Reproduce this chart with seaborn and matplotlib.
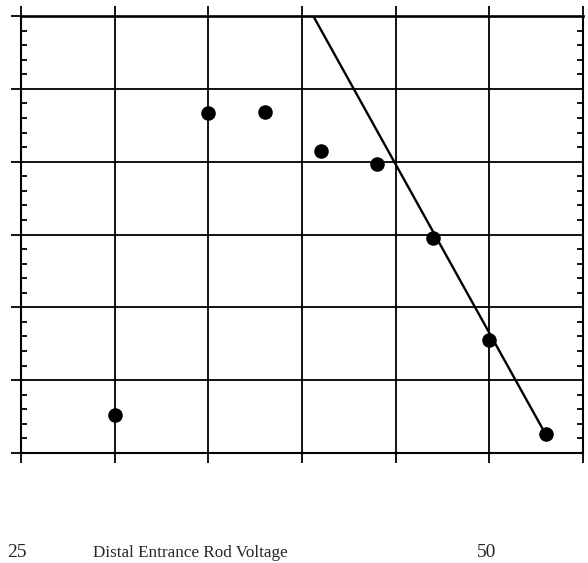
import matplotlib
matplotlib.use("Agg")
import matplotlib.pyplot as plt
import seaborn as sns
import pandas as pd
from matplotlib.ticker import MultipleLocator, NullFormatter

# Measured points
voltage = [30, 35, 38, 41, 44, 47, 50, 53]
response = [0.52, 4.67, 4.68, 4.15, 3.97, 2.95, 1.55, 0.26]

# Fitted linear falloff
fit_voltage = [40.6, 53]
fit_response = [6.0, 0.26]

x_labels = ["25", "50"]
x_label_values = [25, 50]
axis_title = "Distal Entrance Rod Voltage"

sns.set_style("white")
plt.rcParams["font.family"] = ["Liberation Serif", "DejaVu Serif"]

fig = plt.figure(figsize=(5.88, 5.63), dpi=100)
ax = fig.add_axes([21 / 588, 1 - 453 / 563, 562 / 588, 437 / 563])

pts = pd.DataFrame({"v": voltage, "r": response})
fit = pd.DataFrame({"v": fit_voltage, "r": fit_response})

sns.lineplot(data=fit, x="v", y="r", ax=ax, color="black", linewidth=1.7, zorder=3)
sns.scatterplot(data=pts, x="v", y="r", ax=ax, color="black", s=110,
                edgecolor="black", linewidth=0, zorder=4)

ax.set_xlim(25, 55)
ax.set_ylim(0, 6)
ax.xaxis.set_major_locator(MultipleLocator(5))
ax.yaxis.set_major_locator(MultipleLocator(1))
ax.yaxis.set_minor_locator(MultipleLocator(0.2))
ax.xaxis.set_major_formatter(NullFormatter())
ax.yaxis.set_major_formatter(NullFormatter())
ax.set_xlabel("")
ax.set_ylabel("")

ax.grid(True, which="major", color="black", linewidth=1.3)
ax.set_axisbelow(True)
for s in ax.spines.values():
    s.set_color("black")
    s.set_linewidth(1.5)
ax.spines["top"].set_linewidth(1.9)

ax.tick_params(axis="x", which="major", direction="out", length=7, width=1.3,
               top=True, bottom=True, color="black")
ax.tick_params(axis="y", which="major", direction="out", length=7, width=1.3,
               left=True, right=False, color="black")
ax.tick_params(axis="y", which="minor", direction="in", length=4, width=1.3,
               left=True, right=True, color="black")

# Axis annotation below the plot
label_x = {25: 17 / 588, 50: 487 / 588}
base_y = 1 - 557 / 563
for val, txt in zip(x_label_values, x_labels):
    fig.text(label_x[val], base_y, txt, ha="center", va="baseline", fontsize=14)
fig.text(190 / 588, base_y, axis_title, ha="center", va="baseline", fontsize=12.3)

fig.savefig("out.png", dpi=100)
